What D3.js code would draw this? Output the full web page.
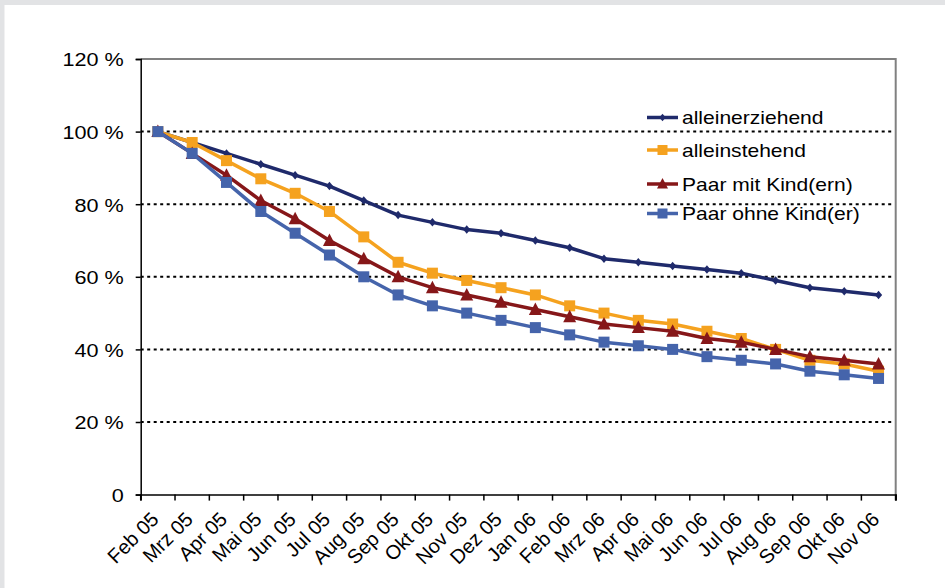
<!DOCTYPE html>
<html><head><meta charset="utf-8">
<script src="https://cdn.jsdelivr.net/npm/d3@7"></script>
<style>
html,body{margin:0;padding:0;background:#fff;}
svg{display:block;font-family:"Liberation Sans",Arial,sans-serif;}
</style></head>
<body>
<script>
const months = ["Feb 05","Mrz 05","Apr 05","Mai 05","Jun 05","Jul 05","Aug 05","Sep 05","Okt 05","Nov 05","Dez 05","Jan 06","Feb 06","Mrz 06","Apr 06","Mai 06","Jun 06","Jul 06","Aug 06","Sep 06","Okt 06","Nov 06"];
const alleinerziehend = [100,97,94,91,88,85,81,77,75,73,72,70,68,65,64,63,62,61,59,57,56,55];
const alleinstehend   = [100,97,92,87,83,78,71,64,61,59,57,55,52,50,48,47,45,43,40,37,36,34];
const paarMitKind     = [100,94,88,81,76,70,65,60,57,55,53,51,49,47,46,45,43,42,40,38,37,36];
const paarOhneKind    = [100,94,86,78,72,66,60,55,52,50,48,46,44,42,41,40,38,37,36,34,33,32];
const seriesNames = ["alleinerziehend","alleinstehend","Paar mit Kind(ern)","Paar ohne Kind(er)"];
const yTicks = [0,20,40,60,80,100,120];
const yTickLabels = ["0","20 %","40 %","60 %","80 %","100 %","120 %"];

(function(){
const W = 945, H = 588;
const pLeft = 140.7, pRight = 895.7, pTop = 59, pBottom = 494.6;
const SX = 1.15, FS = 18.8;

const svg = d3.select("body").append("svg").attr("width", W).attr("height", H);
svg.append("rect").attr("x",0).attr("y",0).attr("width",W).attr("height",H).attr("fill","#e2e3e5");
svg.append("rect").attr("x",4.5).attr("y",5).attr("width",W-4.5).attr("height",H-5).attr("fill","#fff");

const x = d3.scaleBand().domain(months).range([pLeft, pRight]);
const y = d3.scaleLinear().domain([0,120]).range([pBottom, pTop]);
const cx = d => x(d) + x.bandwidth()/2;

svg.append("g").selectAll("line").data(yTicks.filter(v => v>0 && v<120)).join("line")
  .attr("x1", pLeft).attr("x2", pRight-2).attr("y1", d=>y(d)).attr("y2", d=>y(d))
  .attr("stroke","#000").attr("stroke-width",2).attr("stroke-dasharray","3,3.5");

svg.append("path").attr("d", `M${pLeft},${pTop}H${pRight}V${pBottom+6}`)
  .attr("fill","none").attr("stroke","#808080").attr("stroke-width",2);

const yAxis = svg.append("g").attr("transform", `translate(${pLeft},0)`)
  .call(d3.axisLeft(y).tickValues(yTicks).tickSize(5).tickFormat((d,i)=>yTickLabels[i]));
yAxis.select(".domain").attr("stroke","#000").attr("stroke-width",1.5);
yAxis.selectAll(".tick line").attr("stroke","#000").attr("stroke-width",1.5);
yAxis.selectAll(".tick text").each(function(d){
  const t = d3.select(this);
  t.attr("x",null).attr("dy",null).attr("text-anchor","end")
   .attr("transform", `translate(-17,6.8) scale(${SX},1)`)
   .style("font-size", FS+"px").attr("fill","#000");
});

const xAxis = svg.append("g").attr("transform", `translate(0,${pBottom})`)
  .call(d3.axisBottom(x).tickSize(6).tickFormat(""));
xAxis.select(".domain").attr("stroke","#000").attr("stroke-width",1.5);
xAxis.selectAll(".tick").remove();
const bounds = months.map(m => x(m)).concat([pRight]);
svg.append("g").selectAll("line").data(bounds).join("line")
  .attr("x1", d=>d).attr("x2", d=>d).attr("y1", pBottom).attr("y2", pBottom+6)
  .attr("stroke","#000").attr("stroke-width",1.5);
svg.append("g").selectAll("text").data(months).join("text")
  .attr("transform", d => `translate(${cx(d)+2},${pBottom+26}) rotate(-45)`)
  .attr("text-anchor","end").style("font-size", "20px").attr("fill","#000")
  .text(d=>d);

const colors = ["#1f2a6b","#f5a21f","#861719","#4564ab"];
const data = [alleinerziehend, alleinstehend, paarMitKind, paarOhneKind];
const shapes = ["diamond","square","triangle","square"];
const sizes = [7.5,11,12,11];

function marker(g, shape, size, color){
  if (shape==="square") {
    g.append("rect").attr("x",-size/2).attr("y",-size/2).attr("width",size).attr("height",size).attr("fill",color);
  } else if (shape==="diamond") {
    const s = size/2+0.5;
    g.append("path").attr("d",`M0,${-s}L${s*0.85},0L0,${s}L${-s*0.85},0Z`).attr("fill",color);
  } else {
    const s = size/2+0.5;
    g.append("path").attr("d",`M0,${-s-0.5}L${s},${s-1}L${-s},${s-1}Z`).attr("fill",color);
  }
}

const line = d3.line().x((d,i)=>cx(months[i])).y(d=>y(d));
data.forEach((vals, k) => {
  const g = svg.append("g");
  g.append("path").datum(vals).attr("d", line).attr("fill","none")
    .attr("stroke", colors[k]).attr("stroke-width", 3.5).attr("stroke-linejoin","round");
  g.selectAll("g.m").data(vals).join("g").attr("class","m")
    .attr("transform", (d,i)=>`translate(${cx(months[i])},${y(d)})`)
    .each(function(){ marker(d3.select(this), shapes[k], sizes[k], colors[k]); });
});

const legY = [117.5, 150, 184, 213.5];
seriesNames.forEach((n, k) => {
  const g = svg.append("g").attr("transform", `translate(647,${legY[k]})`);
  g.append("line").attr("x1",0).attr("x2",31).attr("stroke",colors[k]).attr("stroke-width",3.5);
  const mg = g.append("g").attr("transform","translate(15.5,0)");
  marker(mg, shapes[k], k===0?6.5:10, colors[k]);
  g.append("text").attr("transform", `translate(35,6.8) scale(1.12,1)`)
    .style("font-size", FS+"px").attr("fill","#000").text(n);
});
})();
</script>
</body></html>
